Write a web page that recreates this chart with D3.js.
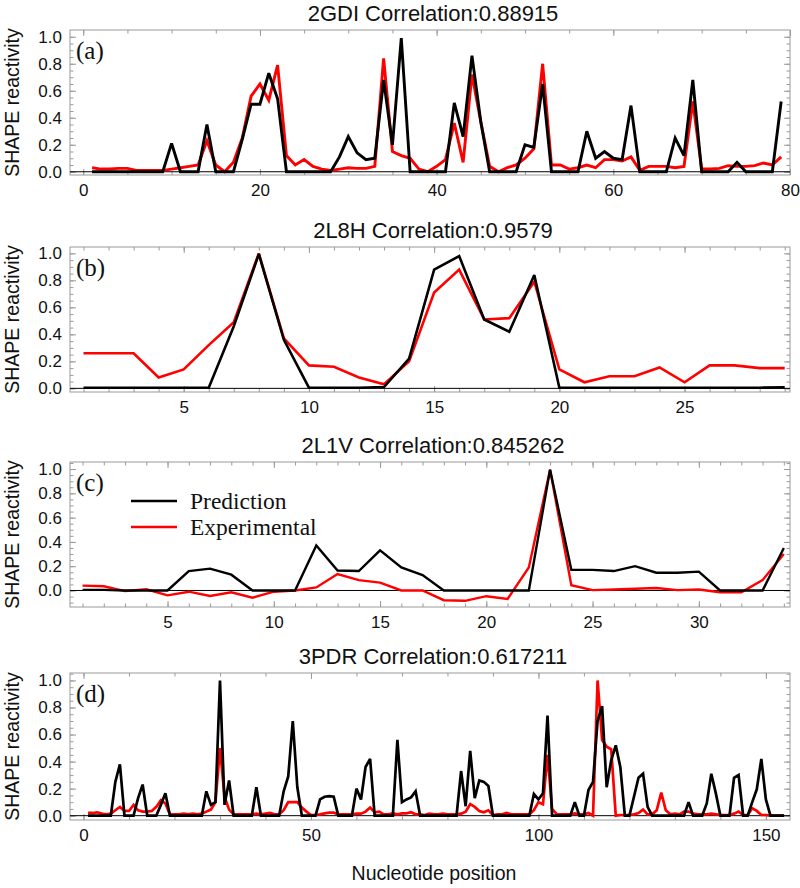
<!DOCTYPE html>
<html>
<head>
<meta charset="utf-8">
<script src="https://cdn.jsdelivr.net/npm/d3@7"></script>
<style>
  html, body { margin: 0; padding: 0; background: #fff; }
  svg { display: block; }
</style>
</head>
<body>
<div id="chart"></div>
<script>
// ---------------- DATA ----------------
const titles = ["2GDI Correlation:0.88915", "2L8H Correlation:0.9579", "2L1V Correlation:0.845262", "3PDR Correlation:0.617211"];
const panelLetters = ["(a)", "(b)", "(c)", "(d)"];
const legendLabels = ["Prediction", "Experimental"];
const xAxisTitle = "Nucleotide position";
const yAxisTitle = "SHAPE reactivity";

// Panel (a) 2GDI, positions 1..79
const predA = [0,0,0,0,0,0,0,0,0,0.21,
  0,0,0,0.35,0,0,0,0.24,0.5,0.5,
  0.73,0.54,0,0,0,0,0,0,0.11,0.26,
  0.14,0.09,0.1,0.68,0.2,0.99,0,0,0,0,
  0,0.51,0.26,0.86,0.37,0,0,0,0,0.2,
  0.18,0.65,0,0,0,0,0.3,0.1,0.15,0.1,
  0.09,0.49,0,0,0,0,0.25,0.12,0.68,0,
  0,0,0,0.07,0,0,0,0,0.52];
const expA = [0.03,0.02,0.02,0.025,0.025,0.01,0.01,0.01,0.01,0.02,
  0.03,0.04,0.05,0.23,0.05,0.0,0.07,0.25,0.56,0.65,
  0.53,0.79,0.12,0.05,0.09,0.04,0.02,0.01,0.02,0.03,
  0.025,0.025,0.04,0.84,0.15,0.12,0.1,0.02,0.0,0.04,
  0.09,0.36,0.07,0.72,0.37,0.04,0.0,0.03,0.05,0.1,
  0.17,0.8,0.05,0.05,0.02,0.03,0.05,0.03,0.09,0.09,
  0.08,0.11,0.01,0.04,0.04,0.04,0.03,0.04,0.52,0.02,
  0.02,0.025,0.045,0.04,0.04,0.045,0.065,0.05,0.11];

// Panel (b) 2L8H, positions 1..29
const predB = [0.005,0.005,0.005,0.005,0.005,0.005,0.46,0.995,0.36,0.005,
  0.005,0.005,0.01,0.22,0.88,0.98,0.51,0.42,0.84,0.005,
  0.005,0.005,0.005,0.005,0.005,0.005,0.005,0.005,0.007];
const expB = [0.26,0.26,0.26,0.08,0.14,0.32,0.49,1.0,0.37,0.17,
  0.16,0.08,0.03,0.2,0.71,0.88,0.51,0.52,0.79,0.14,
  0.045,0.09,0.09,0.155,0.045,0.17,0.17,0.15,0.15];

// Panel (c) 2L1V, positions 1..34
const predC = [0.005,0.005,0,0,0,0.16,0.18,0.13,0,0,
  0,0.37,0.165,0.16,0.33,0.19,0.127,0,0,0,
  0,0,0.995,0.17,0.17,0.16,0.2,0.146,0.146,0.155,
  0,0,0,0.35];
const expC = [0.04,0.035,-0.005,0.01,-0.04,-0.01,-0.045,-0.015,-0.06,-0.01,
  0.0,0.025,0.135,0.085,0.065,0.0,0.0,-0.08,-0.085,-0.047,
  -0.07,0.19,0.995,0.044,0.003,0.008,0.014,0.02,0.003,0.008,
  -0.014,-0.014,0.085,0.3];

// Panel (d) 3PDR, positions 1..154
const predD = [0,0,0,0,0,0,0.25,0.38,0,0,
  0,0.13,0.23,0,0,0,0.08,0.165,0,0,
  0,0,0,0,0,0,0.18,0.08,0.1,1.0,
  0.08,0.26,0,0,0,0,0,0.21,0,0,
  0,0,0,0.18,0.29,0.7,0.21,0,0,0,
  0,0.12,0.14,0.145,0.14,0,0,0,0,0.2,
  0.12,0.36,0.42,0,0,0,0,0,0.56,0.1,
  0.12,0.135,0.18,0,0,0,0,0,0,0,
  0,0,0.33,0.07,0.48,0.13,0.26,0.25,0.22,0,
  0,0,0,0,0,0,0,0,0.16,0.12,
  0.165,0.74,0,0,0,0,0,0.1,0,0,
  0.19,0.25,0.7,0.81,0.21,0.41,0.52,0.36,0,0,
  0.14,0.28,0.31,0.065,0,0,0,0,0,0,
  0,0,0.1,0,0,0,0.09,0.31,0.165,0,
  0,0,0.28,0.3,0,0,0.1,0.195,0.42,0.12,
  0,0,0,0];
const expD = [0.02,0.02,0.025,0.015,0.01,0.015,0.04,0.065,0.035,0.035,
  0.08,0.04,0.03,0.03,0.035,0.065,0.115,0.09,0.01,0.01,
  0.01,0.015,0.01,0.015,0.01,0.015,0.03,0.045,0.1,0.5,
  0.14,0.045,0.01,0.01,0.01,0.01,0.01,0.015,0.01,0.015,
  0.02,0.01,0.01,0.04,0.1,0.1,0.1,0.06,0.03,0.005,
  0.005,0.01,0.017,0.022,0.022,0.01,0.01,0.01,0.01,0.015,
  0.015,0.03,0.06,0.025,0.03,0.01,0.01,0.017,0.01,0.017,
  0.017,0.025,0.01,0.01,0.005,0.015,0.01,0.01,0.015,0.01,
  0.01,0.01,0.015,0.03,0.085,0.065,0.035,0.025,0.04,0.005,
  0.01,0.01,0.02,0.01,0.01,0.01,0.01,0.01,0.04,0.1,
  0.085,0.45,0.05,0.012,0.01,0.01,0.01,0.017,0.01,0.01,
  0.02,0.0,1.0,0.56,0.51,0.49,0.0,0.005,0.005,0.005,
  0.01,0.02,0.045,0.01,0.01,0.04,0.17,0.04,0.01,0.015,
  0.01,0.03,0.03,0.015,0.01,0.01,0.01,0.015,0.01,0.005,
  0.005,0.005,0.015,0.03,0.005,0.005,0.055,0.035,0.005,0.005,
  0,0,0,0];

// Tick labels
const xTicksA = [0, 20, 40, 60, 80];
const xTicksB = [5, 10, 15, 20, 25];
const xTicksC = [5, 10, 15, 20, 25, 30];
const xTicksD = [0, 50, 100, 150];
const yTicks = [0, 0.2, 0.4, 0.6, 0.8, 1.0];

// ---------------- LAYOUT ----------------
const W = 800, H = 888;
const left = 70, right = 790;
const panels = [
  {pred: predA, exp: expA, xDomain: [-1.5, 80], yDomain: [-0.024, 1.05], top: 30, bottom: 175,
   xMajor: xTicksA, xMinor: d3.range(0, 81, 5), lw: 2.9},
  {pred: predB, exp: expB, xDomain: [0.46, 29.21], yDomain: [-0.027, 1.047], top: 247, bottom: 392,
   xMajor: xTicksB, xMinor: d3.range(1, 30, 1), lw: 2.6},
  {pred: predC, exp: expC, xDomain: [0.41, 34.29], yDomain: [-0.136, 1.058], top: 462, bottom: 607,
   xMajor: xTicksC, xMinor: d3.range(1, 35, 1), lw: 2.4, legend: true},
  {pred: predD, exp: expD, xDomain: [-2.97, 155.3], yDomain: [-0.032, 1.055], top: 673, bottom: 820,
   xMajor: xTicksD, xMinor: d3.range(0, 151, 10), lw: 2.7}
];

const svg = d3.select("#chart").append("svg")
  .attr("width", W).attr("height", H)
  .style("font-family", "'Liberation Sans', Arial, sans-serif");

const frameColor = "#9a9a9a";

panels.forEach((p, k) => {
  const x = d3.scaleLinear().domain(p.xDomain).range([left, right]);
  const y = d3.scaleLinear().domain(p.yDomain).range([p.bottom, p.top]);
  const g = svg.append("g");

  // title
  g.append("text")
    .attr("x", 433).attr("y", p.top - 9)
    .attr("text-anchor", "middle")
    .style("font-size", "22px").attr("fill", "#111")
    .text(titles[k]);

  // y axis title
  g.append("text")
    .attr("transform", `translate(19,${(p.top + p.bottom) / 2}) rotate(-90)`)
    .attr("text-anchor", "middle")
    .style("font-size", "19.5px").attr("fill", "#111")
    .text(yAxisTitle);

  const yMinor = d3.range(Math.ceil(p.yDomain[0] / 0.05) * 0.05, p.yDomain[1], 0.05).map(v => +v.toFixed(2));

  const styleAxis = sel => {
    sel.select(".domain").remove();
    sel.selectAll(".tick line").attr("stroke", frameColor).attr("stroke-width", 1);
    sel.selectAll(".tick text").style("font-size", "17px").attr("fill", "#111");
  };

  // bottom major
  g.append("g").attr("transform", `translate(0,${p.bottom})`)
    .call(d3.axisBottom(x).tickValues(p.xMajor).tickSize(-6).tickPadding(9).tickFormat(d3.format("d")))
    .call(styleAxis);
  g.append("g").attr("transform", `translate(0,${p.bottom})`)
    .call(d3.axisBottom(x).tickValues(p.xMinor).tickSize(-3.5).tickFormat(""))
    .call(styleAxis);
  // top
  g.append("g").attr("transform", `translate(0,${p.top})`)
    .call(d3.axisTop(x).tickValues(p.xMajor).tickSize(-6).tickFormat(""))
    .call(styleAxis);
  g.append("g").attr("transform", `translate(0,${p.top})`)
    .call(d3.axisTop(x).tickValues(p.xMinor).tickSize(-3.5).tickFormat(""))
    .call(styleAxis);
  // left
  g.append("g").attr("transform", `translate(${left},0)`)
    .call(d3.axisLeft(y).tickValues(yTicks).tickSize(-6).tickPadding(8).tickFormat(d3.format(".1f")))
    .call(styleAxis);
  g.append("g").attr("transform", `translate(${left},0)`)
    .call(d3.axisLeft(y).tickValues(yMinor).tickSize(-3.5).tickFormat(""))
    .call(styleAxis);
  // right
  g.append("g").attr("transform", `translate(${right},0)`)
    .call(d3.axisRight(y).tickValues(yTicks).tickSize(-6).tickFormat(""))
    .call(styleAxis);
  g.append("g").attr("transform", `translate(${right},0)`)
    .call(d3.axisRight(y).tickValues(yMinor).tickSize(-3.5).tickFormat(""))
    .call(styleAxis);

  // frame
  g.append("rect")
    .attr("x", left).attr("y", p.top)
    .attr("width", right - left).attr("height", p.bottom - p.top)
    .attr("fill", "none").attr("stroke", frameColor).attr("stroke-width", 1);

  // zero line
  g.append("line")
    .attr("x1", left).attr("x2", right)
    .attr("y1", y(0)).attr("y2", y(0))
    .attr("stroke", "#000").attr("stroke-width", 1);

  const line = d3.line().x((d, i) => x(i + 1)).y(d => y(d));

  g.append("path").datum(p.exp)
    .attr("d", line).attr("fill", "none")
    .attr("stroke", "#ff0000").attr("stroke-width", p.lw)
    .attr("stroke-linejoin", "miter").attr("stroke-miterlimit", 3);
  g.append("path").datum(p.pred)
    .attr("d", line).attr("fill", "none")
    .attr("stroke", "#000").attr("stroke-width", p.lw)
    .attr("stroke-linejoin", "miter").attr("stroke-miterlimit", 3);

  // panel letter
  g.append("text")
    .attr("x", 76).attr("y", p.top + 29)
    .style("font-family", "'Liberation Serif', 'Times New Roman', serif")
    .style("font-size", "25px").attr("fill", "#111")
    .text(panelLetters[k]);

  if (p.legend) {
    const lg = g.append("g").style("font-family", "'Liberation Serif', 'Times New Roman', serif");
    const colors = ["#000", "#ff0000"];
    legendLabels.forEach((lab, j) => {
      const ly = 501 + j * 26;
      lg.append("line").attr("x1", 131).attr("x2", 177)
        .attr("y1", ly).attr("y2", ly)
        .attr("stroke", colors[j]).attr("stroke-width", 2.4);
      lg.append("text").attr("x", 190).attr("y", ly + 8)
        .style("font-size", "23.5px").attr("fill", "#111")
        .text(lab);
    });
  }
});

// x axis title
svg.append("text")
  .attr("x", 434).attr("y", 880)
  .attr("text-anchor", "middle")
  .style("font-size", "19.5px").attr("fill", "#111")
  .text(xAxisTitle);
</script>
</body>
</html>
